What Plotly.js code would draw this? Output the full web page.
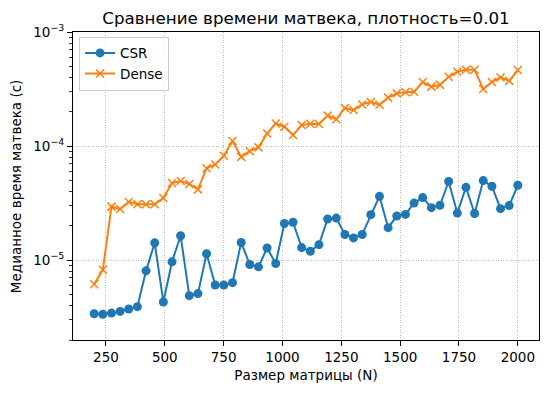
<!DOCTYPE html>
<html>
<head>
<meta charset="utf-8">
<script src="https://cdn.plot.ly/plotly-3.0.1.min.js"></script>
<style>
html,body{margin:0;padding:0;background:#fff;}
#chart{width:547px;height:393px;}
</style>
</head>
<body>
<div id="chart"></div>
<script>
// Matrix sizes N (50 points from 200 to 2000)
const sizes = [200,236.7,273.5,310.2,346.9,383.7,420.4,457.1,493.9,530.6,
  567.3,604.1,640.8,677.6,714.3,751.0,787.8,824.5,861.2,898.0,
  934.7,971.4,1008.2,1044.9,1081.6,1118.4,1155.1,1191.8,1228.6,1265.3,
  1302.0,1338.8,1375.5,1412.2,1449.0,1485.7,1522.4,1559.2,1595.9,1632.7,
  1669.4,1706.1,1742.9,1779.6,1816.3,1853.1,1889.8,1926.5,1963.3,2000];

const csrTimes = [3.40e-6,3.36e-6,3.44e-6,3.56e-6,3.74e-6,3.92e-6,8.07e-6,1.42e-5,4.31e-6,9.68e-6,
  1.64e-5,4.89e-6,5.10e-6,1.14e-5,6.07e-6,6.07e-6,6.36e-6,1.43e-5,9.17e-6,8.75e-6,
  1.28e-5,9.36e-6,2.10e-5,2.15e-5,1.29e-5,1.20e-5,1.37e-5,2.30e-5,2.34e-5,1.68e-5,
  1.57e-5,1.68e-5,2.51e-5,3.63e-5,1.93e-5,2.44e-5,2.52e-5,3.17e-5,3.54e-5,2.89e-5,
  3.03e-5,4.90e-5,2.59e-5,4.35e-5,2.57e-5,4.99e-5,4.45e-5,2.83e-5,3.01e-5,4.54e-5];

const denseTimes = [6.15e-6,8.24e-6,2.95e-5,2.81e-5,3.24e-5,3.09e-5,3.09e-5,3.09e-5,3.51e-5,4.75e-5,
  4.95e-5,4.66e-5,4.18e-5,6.40e-5,6.90e-5,8.22e-5,1.11e-4,8.05e-5,9.03e-5,9.75e-5,
  1.29e-4,1.58e-4,1.48e-4,1.25e-4,1.53e-4,1.57e-4,1.56e-4,1.85e-4,1.72e-4,2.16e-4,
  2.07e-4,2.32e-4,2.44e-4,2.30e-4,2.66e-4,2.90e-4,2.96e-4,2.99e-4,3.64e-4,3.32e-4,
  3.44e-4,4.05e-4,4.48e-4,4.67e-4,4.66e-4,3.16e-4,3.64e-4,4.00e-4,3.73e-4,4.64e-4];

const xTicks = [250,500,750,1000,1250,1500,1750,2000];
const yMajorTicks = [1e-5,1e-4,1e-3];
const yMajorLabels = ['10<sup>−5</sup>','10<sup>−4</sup>','10<sup>−3</sup>'];
const yMinorTicks = [2e-6,3e-6,4e-6,5e-6,6e-6,7e-6,8e-6,9e-6,
  2e-5,3e-5,4e-5,5e-5,6e-5,7e-5,8e-5,9e-5,
  2e-4,3e-4,4e-4,5e-4,6e-4,7e-4,8e-4,9e-4];

const font = {family: 'DejaVu Sans, sans-serif', color: '#000'};
const yRange = [Math.log10(2e-6), -3];

const traces = [
  {
    x: sizes, y: csrTimes, name: 'CSR', type: 'scatter', mode: 'lines+markers',
    line: {color: '#1f77b4', width: 2},
    marker: {symbol: 'circle', size: 9, color: '#1f77b4'}
  },
  {
    x: sizes, y: denseTimes, name: 'Dense', type: 'scatter', mode: 'lines+markers',
    line: {color: '#ff7f0e', width: 2},
    marker: {symbol: 'x-thin', size: 8, color: '#ff7f0e', line: {color: '#ff7f0e', width: 1.5}}
  },
  { // carrier for the minor-tick axis
    x: [null], y: [null], yaxis: 'y2', type: 'scatter', mode: 'markers',
    showlegend: false, hoverinfo: 'skip'
  }
];

const layout = {
  width: 547, height: 393,
  margin: {l: 73, r: 8, t: 32, b: 53},
  paper_bgcolor: '#fff', plot_bgcolor: '#fff',
  font: Object.assign({size: 13.5}, font),
  title: {text: 'Сравнение времени матвека, плотность=0.01', font: Object.assign({size: 16.7}, font),
          x: 0.5, xref: 'paper', y: 0.955, yanchor: 'middle'},
  showlegend: true,
  legend: {x: 0.013, y: 0.985, xanchor: 'left', yanchor: 'top', bgcolor: 'rgba(255,255,255,0.8)',
           bordercolor: '#cccccc', borderwidth: 1, font: Object.assign({size: 13.5}, font),
           tracegroupgap: 2, itemwidth: 30},
  xaxis: {
    range: [110, 2090], tickvals: xTicks, ticktext: xTicks.map(String),
    showline: true, mirror: true, linecolor: '#000', linewidth: 1,
    ticks: 'outside', ticklen: 5, tickwidth: 1, tickcolor: '#000',
    showgrid: true, gridcolor: '#b0b0b0', griddash: '1px,1.5px', gridwidth: 0.8,
    zeroline: false, tickfont: Object.assign({size: 13.5}, font),
    title: {text: 'Размер матрицы (N)', font: Object.assign({size: 13.5}, font), standoff: 6}
  },
  yaxis: {
    type: 'log', range: yRange, tickmode: 'array', tickvals: yMajorTicks, ticktext: yMajorLabels,
    showline: true, mirror: true, linecolor: '#000', linewidth: 1,
    ticks: 'outside', ticklen: 5, tickwidth: 1, tickcolor: '#000',
    showgrid: true, gridcolor: '#b0b0b0', griddash: '1px,1.5px', gridwidth: 0.8,
    zeroline: false, tickfont: Object.assign({size: 13.5}, font)
  },
  yaxis2: {
    type: 'log', range: yRange, overlaying: 'y', side: 'left', anchor: 'x',
    tickmode: 'array', tickvals: yMinorTicks, showticklabels: false,
    ticks: 'outside', ticklen: 3, tickwidth: 0.8, tickcolor: '#000',
    showgrid: false, zeroline: false, showline: false
  },
  annotations: [{
    text: 'Медианное время матвека (с)', xref: 'paper', yref: 'paper',
    x: -0.122, y: 0.5, xanchor: 'center', yanchor: 'middle', textangle: -90,
    showarrow: false, font: Object.assign({size: 13.5}, font)
  }]
};

Plotly.newPlot('chart', traces, layout, {displayModeBar: false, staticPlot: true});
</script>
</body>
</html>
